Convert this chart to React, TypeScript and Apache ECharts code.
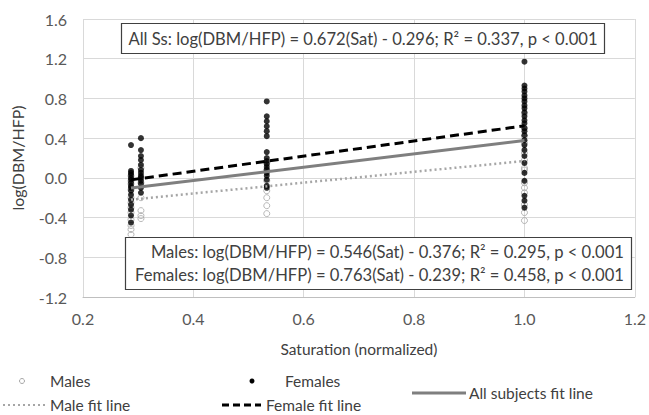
import React, { useEffect, useRef } from "react";
import * as echarts from "echarts";

const FONT = "Lato";

// Data
const maleX1 = 0.287;
const maleY1 = [0.02, -0.03, -0.06, -0.12, -0.2, -0.25, -0.3, -0.35, -0.42, -0.48, -0.52, -0.57];
const femaleX1 = 0.287;
const femaleY1 = [0.33, 0.07, 0.05, 0.03, 0.0, -0.02, -0.05, -0.08, -0.1, -0.13, -0.17, -0.22, -0.27, -0.32, -0.38, -0.45];
const maleX2 = 0.305;
const maleY2 = [0.1, 0.0, -0.05, -0.2, -0.33, -0.38, -0.41];
const femaleX2 = 0.305;
const femaleY2 = [0.4, 0.28, 0.22, 0.18, 0.13, 0.08, 0.05, 0.02, 0.0, -0.03, -0.06, -0.1, -0.15];
const maleX3 = 0.533;
const maleY3 = [0.15, 0.08, -0.03, -0.13, -0.2, -0.28, -0.36];
const femaleX3 = 0.533;
const femaleY3 = [0.77, 0.62, 0.57, 0.52, 0.47, 0.42, 0.26, 0.2, 0.17, 0.14, 0.11, 0.08, 0.05, 0.02, -0.02, -0.08, -0.1];
const maleX4 = 1.0;
const maleY4 = [0.65, 0.5, 0.42, 0.35, 0.25, 0.18, 0.1, 0.08, -0.05, -0.1, -0.15, -0.27, -0.35, -0.43];
const femaleX4 = 1.0;
const femaleY4 = [1.17, 0.93, 0.9, 0.87, 0.83, 0.8, 0.77, 0.73, 0.7, 0.66, 0.62, 0.58, 0.55, 0.5, 0.47, 0.43, 0.38, 0.33, 0.28, 0.22, 0.15, 0.05, -0.03, -0.18, -0.23, -0.3];

// Regression fits [slope, intercept]
const allFit = [0.672, -0.296];
const maleFit = [0.546, -0.376];
const femaleFit = [0.763, -0.239];
const fitRange = [0.287, 1.0];

const yTicks = [-1.2, -0.8, -0.4, 0.0, 0.4, 0.8, 1.2, 1.6];
const xTicks = [0.2, 0.4, 0.6, 0.8, 1.0, 1.2];

const allText = "All Ss: log(DBM/HFP) = 0.672(Sat) - 0.296; R² = 0.337, p < 0.001";
const maleText = "Males: log(DBM/HFP) = 0.546(Sat) - 0.376; R² = 0.295, p < 0.001";
const femaleText = "Females: log(DBM/HFP) = 0.763(Sat) - 0.239; R² = 0.458, p < 0.001";

const pts = (x: number, ys: number[]) => ys.map((y) => [x, y]);
const fitLine = (f: number[]) => fitRange.map((x) => [x, f[0] * x + f[1]]);

export default function App() {
  const ref = useRef<HTMLDivElement>(null);
  useEffect(() => {
    const chart = echarts.init(ref.current!, null, { renderer: "svg" });
    const males = [...pts(maleX1, maleY1), ...pts(maleX2, maleY2), ...pts(maleX3, maleY3), ...pts(maleX4, maleY4)];
    const females = [...pts(femaleX1, femaleY1), ...pts(femaleX2, femaleY2), ...pts(femaleX3, femaleY3), ...pts(femaleX4, femaleY4)];
    const txt = "#404040";
    const lg = `15.5px ${FONT}`;
    const boxFont = `16.6px ${FONT}`;
    chart.setOption({
      animation: false,
      textStyle: { fontFamily: FONT },
      grid: { left: 83, right: 13, top: 19, bottom: 118 },
      xAxis: {
        type: "value",
        min: xTicks[0],
        max: xTicks[xTicks.length - 1],
        interval: 0.2,
        axisLine: { show: true, onZero: false, lineStyle: { color: "#bfbfbf" } },
        axisTick: { show: false },
        splitLine: { show: true, lineStyle: { color: "#d9d9d9" } },
        axisLabel: { color: "#595959", fontSize: 16, fontFamily: FONT, margin: 13, formatter: (v: number) => v.toFixed(1) },
        name: "Saturation (normalized)",
        nameLocation: "middle",
        nameGap: 44,
        nameTextStyle: { color: txt, fontSize: 15.5, fontFamily: FONT },
      },
      yAxis: {
        type: "value",
        min: yTicks[0],
        max: yTicks[yTicks.length - 1],
        interval: 0.4,
        axisLine: { show: false },
        axisTick: { show: false },
        splitLine: { show: true, lineStyle: { color: "#d9d9d9" } },
        axisLabel: { color: "#595959", fontSize: 16, fontFamily: FONT, margin: 16, formatter: (v: number) => v.toFixed(1) },
        name: "log(DBM/HFP)",
        nameLocation: "middle",
        nameGap: 58,
        nameTextStyle: { color: txt, fontSize: 16, fontFamily: FONT },
      },
      series: [
        {
          name: "Male fit line",
          type: "line",
          data: fitLine(maleFit),
          symbol: "none",
          lineStyle: { color: "#a6a6a6", width: 2.5, type: [2, 3] },
          z: 3,
        },
        {
          name: "All subjects fit line",
          type: "line",
          data: fitLine(allFit),
          symbol: "none",
          lineStyle: { color: "#7f7f7f", width: 3 },
          z: 3,
        },
        {
          name: "Female fit line",
          type: "line",
          data: fitLine(femaleFit),
          symbol: "none",
          lineStyle: { color: "#000000", width: 3, type: [9, 5] },
          z: 3,
        },
        {
          name: "Males",
          type: "scatter",
          data: males,
          symbol: "circle",
          symbolSize: 6,
          itemStyle: { color: "rgba(255,255,255,0)", borderColor: "#a6a6a6", borderWidth: 1 },
          z: 2,
        },
        {
          name: "Females",
          type: "scatter",
          data: females,
          symbol: "circle",
          symbolSize: 6,
          itemStyle: { color: "#000000" },
          z: 2,
        },
      ],
      graphic: [
        { type: "rect", z: 100, shape: { x: 121.5, y: 23.5, width: 483, height: 30 }, style: { fill: "#ffffff", stroke: "#404040", lineWidth: 1.2 } },
        { type: "text", z: 101, x: 363, y: 39, style: { text: allText, fill: txt, font: boxFont, align: "center", verticalAlign: "middle" } },
        { type: "rect", z: 100, shape: { x: 125.5, y: 237.5, width: 506, height: 52 }, style: { fill: "#ffffff", stroke: "#404040", lineWidth: 1.2 } },
        { type: "text", z: 101, x: 624, y: 252, style: { text: maleText, fill: txt, font: boxFont, align: "right", verticalAlign: "middle" } },
        { type: "text", z: 101, x: 624, y: 275, style: { text: femaleText, fill: txt, font: boxFont, align: "right", verticalAlign: "middle" } },
        // legend
        { type: "circle", z: 100, shape: { cx: 22, cy: 381, r: 2.5 }, style: { fill: "#fff", stroke: "#a6a6a6", lineWidth: 1 } },
        { type: "text", z: 100, x: 50, y: 381, style: { text: "Males", fill: txt, font: lg, verticalAlign: "middle" } },
        { type: "circle", z: 100, shape: { cx: 252, cy: 381, r: 2.5 }, style: { fill: "#000" } },
        { type: "text", z: 100, x: 285, y: 381, style: { text: "Females", fill: txt, font: lg, verticalAlign: "middle" } },
        { type: "line", z: 100, shape: { x1: 3, y1: 405, x2: 45, y2: 405 }, style: { stroke: "#a6a6a6", lineWidth: 2, lineDash: [2, 3] } },
        { type: "text", z: 100, x: 50, y: 405, style: { text: "Male fit line", fill: txt, font: lg, verticalAlign: "middle" } },
        { type: "line", z: 100, shape: { x1: 222, y1: 405, x2: 261, y2: 405 }, style: { stroke: "#000", lineWidth: 3, lineDash: [7, 4] } },
        { type: "text", z: 100, x: 266, y: 405, style: { text: "Female fit line", fill: txt, font: lg, verticalAlign: "middle" } },
        { type: "line", z: 100, shape: { x1: 412, y1: 393, x2: 466, y2: 393 }, style: { stroke: "#7f7f7f", lineWidth: 3 } },
        { type: "text", z: 100, x: 469, y: 393, style: { text: "All subjects fit line", fill: txt, font: lg, verticalAlign: "middle" } },
      ],
    });
    return () => chart.dispose();
  }, []);
  return <div ref={ref} style={{ position: "fixed", left: 0, top: 0, width: 649, height: 415, background: "#fff" }} />;
}
